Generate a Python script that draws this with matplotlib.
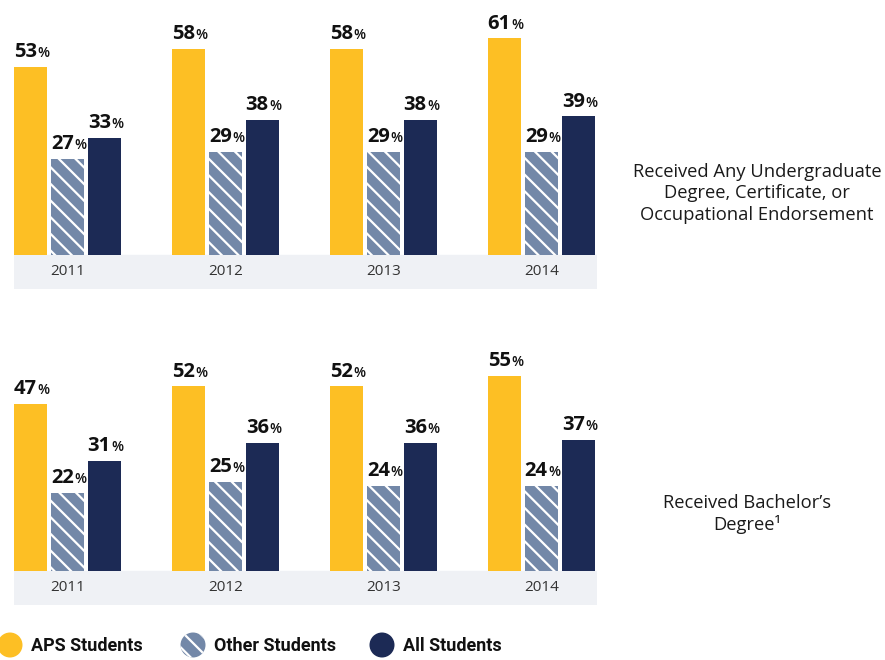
import matplotlib.pyplot as plt
from matplotlib.patches import Circle

plt.rcParams['font.family'] = ['Open Sans', 'DejaVu Sans']
plt.rcParams['hatch.linewidth'] = 1.6

years = ['2011', '2012', '2013', '2014']
series = ['APS Students', 'Other Students', 'All Students']
undergrad = [[53, 58, 58, 61],
             [27, 29, 29, 29],
             [33, 38, 38, 39]]
bachelor = [[47, 52, 52, 55],
            [22, 25, 24, 24],
            [31, 36, 36, 37]]
panel_titles = ['Received Any Undergraduate\nDegree, Certificate, or\nOccupational Endorsement',
                'Received Bachelor\u2019s\nDegree\u00b9']

colors = ['#FDBF24', '#7388A8', '#1C2A55']
hatches = [None, '\\\\', None]
strip = '#EFF1F5'

W, H = 885, 660
fig = plt.figure(figsize=(8.85, 6.6), dpi=100)

def panel(rect, data, title, title_xy):
    ax = fig.add_axes(rect)
    ax.set_xlim(-0.339, 3.351)
    ax.set_ylim(-9.6, 71.8)
    ax.axis('off')
    ax.axhspan(-9.6, 0, color=strip, zorder=0)
    offs = [-0.234, 0, 0.234]
    for k in range(3):
        xs = [i + offs[k] for i in range(len(years))]
        ax.bar(xs, data[k], width=0.209, color=colors[k], hatch=hatches[k],
               edgecolor='white' if hatches[k] else colors[k], linewidth=0, zorder=2)
        for x, v in zip(xs, data[k]):
            ax.annotate(str(v), (x, v), xytext=(4.5, 7), textcoords='offset points',
                        ha='right', va='baseline', fontsize=14.5, fontweight='bold',
                        color='#111111')
            ax.annotate('%', (x, v), xytext=(4.6, 7), textcoords='offset points',
                        ha='left', va='baseline', fontsize=10, fontweight='semibold',
                        color='#111111')
    for i, y in enumerate(years):
        ax.text(i, -4.8, y, ha='center', va='center', fontsize=11, color='#333333')
    fig.text(title_xy[0] / W, 1 - title_xy[1] / H, title, ha='center', va='center',
             fontsize=13.2, color='#1a1a1a', linespacing=1.25)
    return ax

panel([14 / W, 1 - 289 / H, 583 / W, 289 / H], undergrad, panel_titles[0], (757, 193))
panel([14 / W, 1 - 605 / H, 583 / W, 289 / H], bachelor, panel_titles[1], (747, 514))

# legend
lax = fig.add_axes([0, 0, 1, 1])
lax.set_xlim(0, W)
lax.set_ylim(H, 0)
lax.axis('off')
lx = [10, 193, 382]
for k in range(3):
    c = Circle((lx[k], 645), 12.5, facecolor=colors[k], hatch=hatches[k],
               edgecolor='white' if hatches[k] else colors[k], linewidth=0)
    lax.add_patch(c)
    lax.text(lx[k] + 21, 646, series[k], ha='left', va='center', fontsize=13,
             fontweight='bold', color='#111111', family=['Roboto', 'DejaVu Sans'])

fig.savefig('out.png', dpi=100)
